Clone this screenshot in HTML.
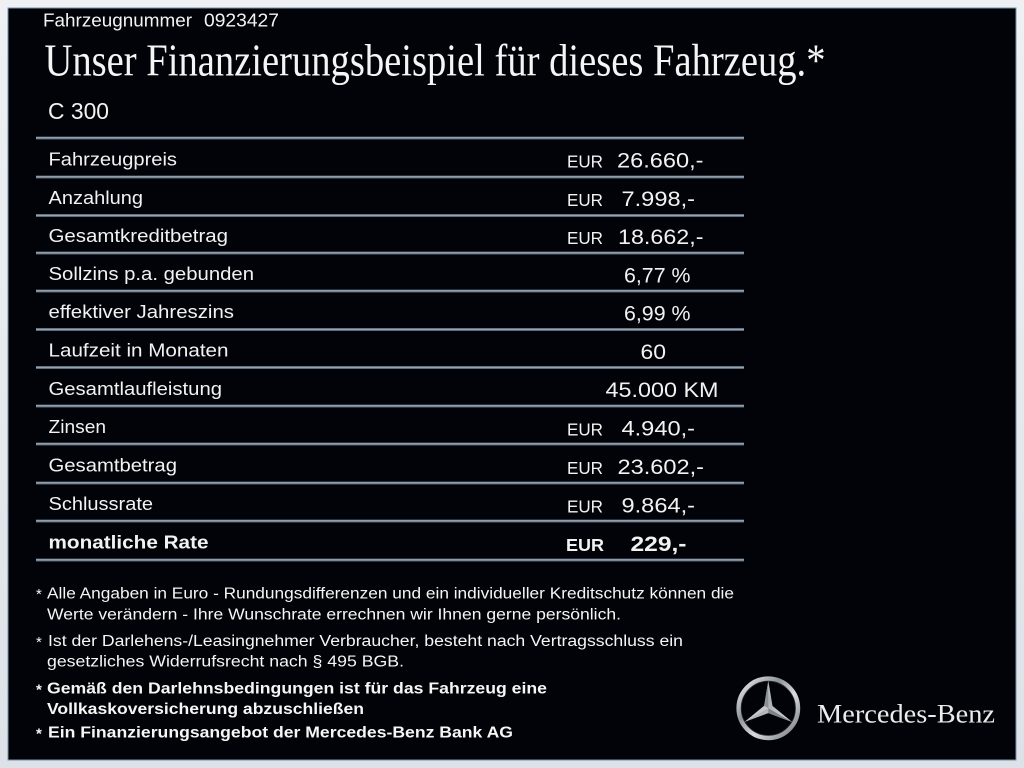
<!DOCTYPE html>
<html><head><meta charset="utf-8">
<style>
html,body{margin:0;padding:0;background:#e6e9ed;width:1024px;height:768px;overflow:hidden}
svg{display:block}
</style></head>
<body>
<svg width="1024" height="768" viewBox="0 0 1024 768" xmlns="http://www.w3.org/2000/svg">
<defs>
<linearGradient id="bg" x1="0" y1="0" x2="0" y2="1">
<stop offset="0" stop-color="#eef0f3"/><stop offset="1" stop-color="#dde2e8"/>
</linearGradient>
<linearGradient id="ln" x1="0" y1="0" x2="0" y2="1">
<stop offset="0" stop-color="#3c4856"/><stop offset="0.4" stop-color="#a4b1c0"/><stop offset="1" stop-color="#46525f"/>
</linearGradient>
<linearGradient id="ring" x1="0" y1="0" x2="1" y2="1">
<stop offset="0" stop-color="#f2f4f6"/><stop offset="0.35" stop-color="#8e949a"/><stop offset="0.6" stop-color="#d8dcdf"/><stop offset="1" stop-color="#6e757c"/>
</linearGradient>
<linearGradient id="star" x1="0" y1="0" x2="1" y2="1">
<stop offset="0" stop-color="#f4f5f6"/><stop offset="0.5" stop-color="#a9aeb3"/><stop offset="1" stop-color="#d5d8db"/>
</linearGradient>
</defs>
<rect x="0" y="0" width="1024" height="768" fill="url(#bg)"/>
<rect x="7.5" y="7.5" width="1009" height="753" fill="#7890aa"/>
<rect x="8.5" y="8.5" width="1007" height="751" fill="#020308"/>

<g font-family="'Liberation Sans', Arial, sans-serif" fill="#f3f3f3">
<text x="43" y="26.7" font-size="18.7" textLength="149" lengthAdjust="spacingAndGlyphs">Fahrzeugnummer</text>
<text x="204" y="26.7" font-size="18.7" textLength="75" lengthAdjust="spacingAndGlyphs">0923427</text>
<text x="48" y="119" font-size="23" textLength="61" lengthAdjust="spacingAndGlyphs">C 300</text>
</g>
<text x="44.5" y="75.7" font-family="'Liberation Serif', 'Times New Roman', serif" font-size="45" fill="#f5f5f5" textLength="781" lengthAdjust="spacingAndGlyphs">Unser Finanzierungsbeispiel für dieses Fahrzeug.*</text>

<!-- table lines -->
<g fill="url(#ln)">
<rect x="36" y="136.5" width="708" height="3"/>
<rect x="36" y="175.5" width="708" height="3"/>
<rect x="36" y="214" width="708" height="3"/>
<rect x="36" y="251.5" width="708" height="3"/>
<rect x="36" y="289.5" width="708" height="3"/>
<rect x="36" y="328" width="708" height="3"/>
<rect x="36" y="366" width="708" height="3"/>
<rect x="36" y="404.5" width="708" height="3"/>
<rect x="36" y="442.5" width="708" height="3"/>
<rect x="36" y="481.5" width="708" height="3"/>
<rect x="36" y="519.5" width="708" height="3"/>
<rect x="36" y="558.5" width="708" height="3"/>
</g>

<!-- labels -->
<g font-family="'Liberation Sans', Arial, sans-serif" font-size="18.5" fill="#f2f2f2">
<text x="48.5" y="165.5" textLength="128.5" lengthAdjust="spacingAndGlyphs">Fahrzeugpreis</text>
<text x="48.5" y="204.2" textLength="94.5" lengthAdjust="spacingAndGlyphs">Anzahlung</text>
<text x="48.5" y="242.2" textLength="179.5" lengthAdjust="spacingAndGlyphs">Gesamtkreditbetrag</text>
<text x="48.5" y="280" textLength="205.5" lengthAdjust="spacingAndGlyphs">Sollzins p.a. gebunden</text>
<text x="48.5" y="318.2" textLength="185.5" lengthAdjust="spacingAndGlyphs">effektiver Jahreszins</text>
<text x="48.5" y="356.5" textLength="180" lengthAdjust="spacingAndGlyphs">Laufzeit in Monaten</text>
<text x="48.5" y="394.8" textLength="173.5" lengthAdjust="spacingAndGlyphs">Gesamtlaufleistung</text>
<text x="48.5" y="433" textLength="57.5" lengthAdjust="spacingAndGlyphs">Zinsen</text>
<text x="48.5" y="471.5" textLength="128.5" lengthAdjust="spacingAndGlyphs">Gesamtbetrag</text>
<text x="48.5" y="510" textLength="104.5" lengthAdjust="spacingAndGlyphs">Schlussrate</text>
<text x="48.5" y="548.5" font-weight="bold" textLength="160" lengthAdjust="spacingAndGlyphs">monatliche Rate</text>
</g>

<!-- values -->
<g font-family="'Liberation Sans', Arial, sans-serif" fill="#f2f2f2">
<g font-size="17.3">
<text x="567" y="167.5" textLength="36" lengthAdjust="spacingAndGlyphs">EUR</text>
<text x="567" y="206.2" textLength="36" lengthAdjust="spacingAndGlyphs">EUR</text>
<text x="567" y="244.2" textLength="36" lengthAdjust="spacingAndGlyphs">EUR</text>
<text x="567" y="435.3" textLength="36" lengthAdjust="spacingAndGlyphs">EUR</text>
<text x="567" y="473.8" textLength="36" lengthAdjust="spacingAndGlyphs">EUR</text>
<text x="567" y="512.3" textLength="36" lengthAdjust="spacingAndGlyphs">EUR</text>
<text x="566" y="550.8" font-weight="bold" textLength="38" lengthAdjust="spacingAndGlyphs">EUR</text>
</g>
<g font-size="21">
<text x="617" y="167.5" textLength="86.5" lengthAdjust="spacingAndGlyphs">26.660,-</text>
<text x="621.5" y="206.2" textLength="73.5" lengthAdjust="spacingAndGlyphs">7.998,-</text>
<text x="618" y="244.2" textLength="85.5" lengthAdjust="spacingAndGlyphs">18.662,-</text>
<text x="624" y="282.3" textLength="66.5" lengthAdjust="spacingAndGlyphs">6,77 %</text>
<text x="624" y="320.5" textLength="66.5" lengthAdjust="spacingAndGlyphs">6,99 %</text>
<text x="640.5" y="358.8" textLength="25.5" lengthAdjust="spacingAndGlyphs">60</text>
<text x="605.5" y="397" textLength="113" lengthAdjust="spacingAndGlyphs">45.000 KM</text>
<text x="621.5" y="435.3" textLength="73.5" lengthAdjust="spacingAndGlyphs">4.940,-</text>
<text x="617.5" y="473.8" textLength="86.5" lengthAdjust="spacingAndGlyphs">23.602,-</text>
<text x="621.5" y="512.3" textLength="73.5" lengthAdjust="spacingAndGlyphs">9.864,-</text>
<text x="630.5" y="550.8" font-weight="bold" textLength="56" lengthAdjust="spacingAndGlyphs">229,-</text>
</g>
</g>

<!-- footnotes -->
<g font-family="'Liberation Sans', Arial, sans-serif" font-size="15.5" fill="#f6f6f6">
<text x="36" y="599" font-size="15">*</text>
<text x="47" y="598.3" textLength="687" lengthAdjust="spacingAndGlyphs">Alle Angaben in Euro - Rundungsdifferenzen und ein individueller Kreditschutz können die</text>
<text x="47" y="619.3" textLength="574" lengthAdjust="spacingAndGlyphs">Werte verändern - Ihre Wunschrate errechnen wir Ihnen gerne persönlich.</text>
<text x="36" y="647" font-size="15">*</text>
<text x="48" y="646" textLength="635" lengthAdjust="spacingAndGlyphs">Ist der Darlehens-/Leasingnehmer Verbraucher, besteht nach Vertragsschluss ein</text>
<text x="47" y="666.7" textLength="357" lengthAdjust="spacingAndGlyphs">gesetzliches Widerrufsrecht nach § 495 BGB.</text>
<g font-weight="bold">
<text x="36" y="694.3" font-size="15">*</text>
<text x="47" y="693.3" textLength="500" lengthAdjust="spacingAndGlyphs">Gemäß den Darlehnsbedingungen ist für das Fahrzeug eine</text>
<text x="47" y="714" textLength="317" lengthAdjust="spacingAndGlyphs">Vollkaskoversicherung abzuschließen</text>
<text x="36" y="738.3" font-size="15">*</text>
<text x="48" y="737.3" textLength="465" lengthAdjust="spacingAndGlyphs">Ein Finanzierungsangebot der Mercedes-Benz Bank AG</text>
</g>
</g>

<!-- logo -->
<g transform="translate(768.3,708.3)">
<circle r="29.6" fill="none" stroke="url(#ring)" stroke-width="4.6"/>
<circle r="27.1" fill="none" stroke="#2a2d31" stroke-width="0.8"/>
<polygon points="0,-27.5 4.2,-2.4 23.8,13.75 0,4.8 -23.8,13.75 -4.2,-2.4" fill="url(#star)"/>
<polygon points="0,-27.5 0,0 -4.2,-2.4" fill="#8b9096"/>
<polygon points="23.8,13.75 0,0 0,4.8" fill="#7d838a"/>
<polygon points="-23.8,13.75 0,0 -4.2,-2.4" fill="#c4c8cc"/>
</g>
<text x="817" y="722.7" font-family="'Liberation Serif', 'Times New Roman', serif" font-size="26.5" fill="#ececec" textLength="178" lengthAdjust="spacingAndGlyphs">Mercedes-Benz</text>
</svg>
</body></html>
